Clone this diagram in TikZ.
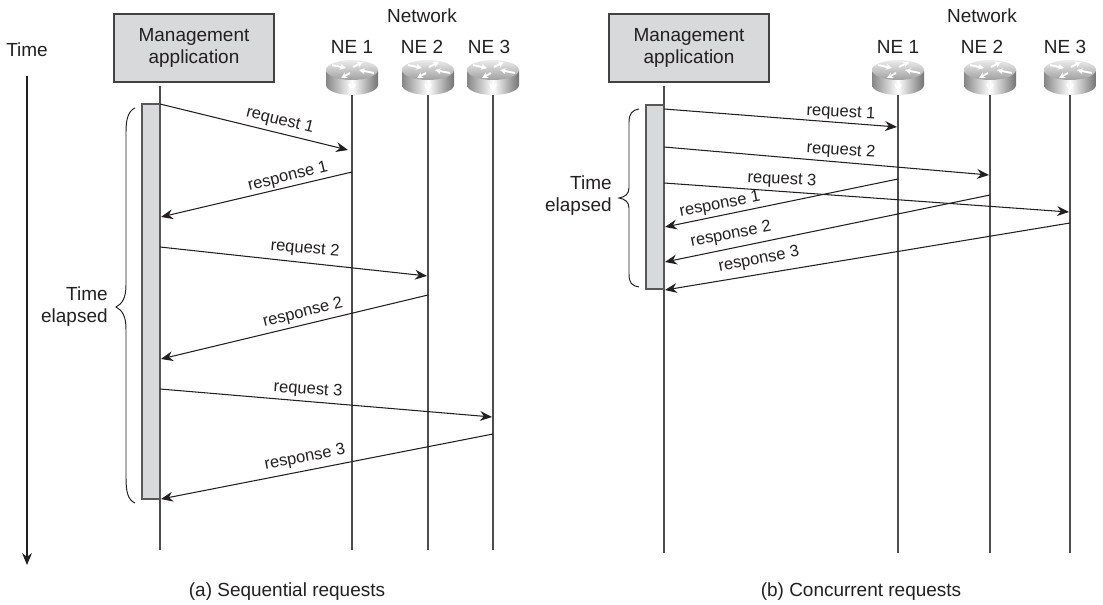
\documentclass[tikz,border=0pt]{standalone}
\usepackage{fontspec}
\setmainfont{Liberation Sans}
\usetikzlibrary{arrows.meta}
\definecolor{inkblack}{HTML}{231F20}
\definecolor{panelgray}{HTML}{D8D9DB}
\tikzset{
	lifeline/.style={inkblack!80, line width=0.7pt},
	msg/.style={inkblack, line width=0.6pt, -{Stealth[length=6.8pt, width=5.6pt]}},
	mgmtbox/.style={draw=inkblack!85, fill=panelgray, line width=0.8pt, minimum width=3.2cm, minimum height=1.36cm, align=center, font=\fontsize{10.8}{12.6}\selectfont, text=inkblack},
	barbox/.style={draw=inkblack!75, fill=panelgray, line width=0.7pt},
	bracket/.style={inkblack, line width=0.55pt},
	tag/.style={font=\fontsize{10.8}{12.6}\selectfont, text=inkblack, align=center},
	elapsedtag/.style={font=\fontsize{10.8}{12.6}\selectfont, text=inkblack, align=right, anchor=east, inner sep=0pt},
	msgtag/.style={font=\fontsize{9.4}{11}\selectfont, text=inkblack, inner sep=0pt},
	flowtip/.style={white, line width=1.1pt, -{Stealth[length=3.4pt, width=3.4pt]}},
	routerpic/.pic={
		\shade [left color=gray!95, right color=gray!90!black, middle color=white] (-26,0) -- (-26,15) arc [start angle=180, end angle=0, x radius=26, y radius=10] -- (26,0) -- cycle;
		\shade [top color=gray!15, bottom color=gray!75] (0,0) ellipse [x radius=26, y radius=10];
		% arrows on top
		\draw [flowtip] (-20,-5) -- (-6,-2);
		\draw [flowtip] (1,-3) -- (11,-8);
		\draw [flowtip] (22,3) -- (7,0);
		\draw [flowtip] (-2,3) -- (-11,8);
		% mark on the rim
		\draw [white, line width=0.9pt] (-3,14) -- (0,21) -- (3,14);
	}
}

\begin{document}
\begin{tikzpicture}[x=0.02cm, y=-0.02cm]
	\useasboundingbox (0,0) rectangle (1103,605);
	% Draw time axis
	\node [tag] (timelabel) at (27,50) {Time};
	\coordinate (timetop) at (27,76);
	\coordinate (timeend) at (27,565);
	\draw [msg] (timetop) -- (timeend);

	% Draw left panel
	\node [mgmtbox] (mgmta) at (194,48) {Management\\application};
	\node [tag] (neta) at (422,16) {Network};
	\node [tag] (nea1) at (352,47) {NE 1};
	\node [tag] (nea2) at (422,47) {NE 2};
	\node [tag] (nea3) at (489,47) {NE 3};
	\node [tag] (captiona) at (287,592) {(a) Sequential requests};
	\node [elapsedtag] (elapseda) at (108,307) {Time\\elapsed};
	\coordinate (appatop) at (160,86);
	\coordinate (appaend) at (160,550);
	\coordinate (a1top) at (352,90);
	\coordinate (a1end) at (352,550);
	\coordinate (a2top) at (428,90);
	\coordinate (a2end) at (428,550);
	\coordinate (a3top) at (493,90);
	\coordinate (a3end) at (493,550);
	\draw [lifeline] (appatop) -- (appaend);
	\draw [lifeline] (a1top) -- (a1end);
	\draw [lifeline] (a2top) -- (a2end);
	\draw [lifeline] (a3top) -- (a3end);
	\pic at (352,70) {routerpic};
	\pic at (428,70) {routerpic};
	\pic at (493,70) {routerpic};
	\draw [barbox] (142,104) rectangle (160,499);
	\draw [bracket] (135,108) .. controls (128,111) and (126,120) .. (126,132) -- (126,285) .. controls (126,298) and (122,304) .. (116,307) .. controls (122,310) and (126,316) .. (126,329) -- (126,478) .. controls (126,492) and (128,500) .. (135,503);
	\coordinate (ra1s) at (160,104);
	\coordinate (ra1e) at (348,150);
	\coordinate (pa1s) at (352,172);
	\coordinate (pa1e) at (161,217);
	\coordinate (ra2s) at (160,247);
	\coordinate (ra2e) at (427,276);
	\coordinate (pa2s) at (428,295);
	\coordinate (pa2e) at (161,359);
	\coordinate (ra3s) at (160,389);
	\coordinate (ra3e) at (492,417);
	\coordinate (pa3s) at (493,434);
	\coordinate (pa3e) at (161,499);
	\draw [msg] (ra1s) -- (ra1e);
	\draw [msg] (pa1s) -- (pa1e);
	\draw [msg] (ra2s) -- (ra2e);
	\draw [msg] (pa2s) -- (pa2e);
	\draw [msg] (ra3s) -- (ra3e);
	\draw [msg] (pa3s) -- (pa3e);
	\node [msgtag, rotate=-14] (reqa1) at (280,121) {request 1};
	\node [msgtag, rotate=14] (respa1) at (288,177) {response 1};
	\node [msgtag, rotate=-5] (reqa2) at (305,249) {request 2};
	\node [msgtag, rotate=14] (respa2) at (303,313) {response 2};
	\node [msgtag, rotate=-4] (reqa3) at (308,390) {request 3};
	\node [msgtag, rotate=11] (respa3) at (305,458) {response 3};

	% Draw right panel
	\node [mgmtbox] (mgmtb) at (689,48) {Management\\application};
	\node [tag] (netb) at (982,16) {Network};
	\node [tag] (neb1) at (898,47) {NE 1};
	\node [tag] (neb2) at (982,47) {NE 2};
	\node [tag] (neb3) at (1065,47) {NE 3};
	\node [tag] (captionb) at (861,592) {(b) Concurrent requests};
	\node [elapsedtag] (elapsedb) at (612,196) {Time\\elapsed};
	\coordinate (appbtop) at (664,86);
	\coordinate (appbend) at (664,553);
	\coordinate (b1top) at (898,90);
	\coordinate (b1end) at (898,553);
	\coordinate (b2top) at (990,90);
	\coordinate (b2end) at (990,553);
	\coordinate (b3top) at (1070,90);
	\coordinate (b3end) at (1070,553);
	\draw [lifeline] (appbtop) -- (appbend);
	\draw [lifeline] (b1top) -- (b1end);
	\draw [lifeline] (b2top) -- (b2end);
	\draw [lifeline] (b3top) -- (b3end);
	\pic at (898,70) {routerpic};
	\pic at (990,70) {routerpic};
	\pic at (1070,70) {routerpic};
	\draw [barbox] (646,105) rectangle (664,289);
	\draw [bracket] (639,109) .. controls (632,110) and (629,114) .. (629,122) -- (629,188) .. controls (629,194) and (625,197) .. (619,198) .. controls (625,199) and (629,202) .. (629,208) -- (629,274) .. controls (629,283) and (632,286) .. (639,287);
	\coordinate (rb1s) at (664,109);
	\coordinate (rb1e) at (897,127);
	\coordinate (rb2s) at (664,147);
	\coordinate (rb2e) at (989,175);
	\coordinate (rb3s) at (664,183);
	\coordinate (rb3e) at (1069,212);
	\coordinate (pb1s) at (898,179);
	\coordinate (pb1e) at (665,227);
	\coordinate (pb2s) at (990,195);
	\coordinate (pb2e) at (665,262);
	\coordinate (pb3s) at (1070,223);
	\coordinate (pb3e) at (665,290);
	\draw [msg] (rb1s) -- (rb1e);
	\draw [msg] (rb2s) -- (rb2e);
	\draw [msg] (rb3s) -- (rb3e);
	\draw [msg] (pb1s) -- (pb1e);
	\draw [msg] (pb2s) -- (pb2e);
	\draw [msg] (pb3s) -- (pb3e);
	\node [msgtag, rotate=-3] (reqb1) at (841,113) {request 1};
	\node [msgtag, rotate=-4] (reqb2) at (841,151) {request 2};
	\node [msgtag, rotate=-3] (reqb3) at (782,180) {request 3};
	\node [msgtag, rotate=11] (respb1) at (720,205) {response 1};
	\node [msgtag, rotate=11] (respb2) at (731,235) {response 2};
	\node [msgtag, rotate=11] (respb3) at (759,260) {response 3};
\end{tikzpicture}
\end{document}
